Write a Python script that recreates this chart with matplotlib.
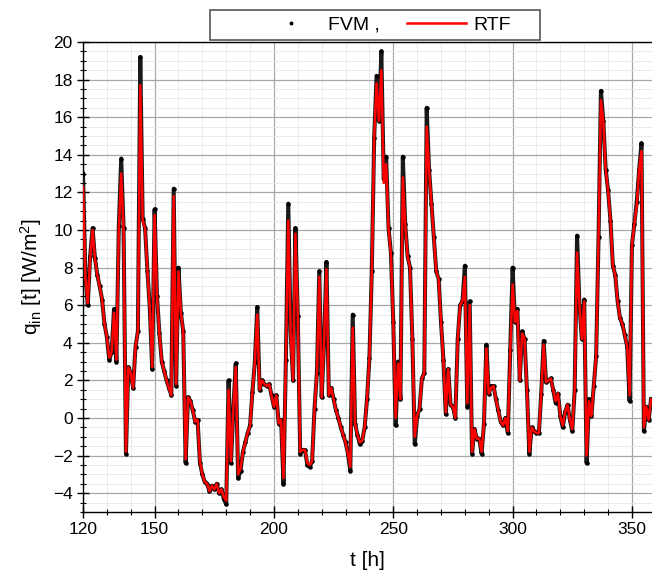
import numpy as np
import matplotlib
matplotlib.use("Agg")
import matplotlib.pyplot as plt
from matplotlib.ticker import MultipleLocator
from matplotlib.patches import Rectangle

plt.rcParams['font.family'] = ['Liberation Sans', 'DejaVu Sans']
plt.rcParams['mathtext.fontset'] = 'custom'
plt.rcParams['mathtext.rm'] = 'Liberation Sans'
plt.rcParams['mathtext.it'] = 'Liberation Sans:italic'

# hourly time axis, t = 120 ... 358 h
t_hours = np.arange(120, 359)

# RTF result (red line)
q_rtf = [
    12.3, 7.5, 6.1, 8.5, 10.0, 8.5, 7.6, 7.0, 6.3, 5.0,      # 120-129
    4.3, 3.2, 3.5, 5.6, 3.1, 10.0, 13.0, 10.0, -1.8, 2.7,     # 130-139
    2.4, 1.6, 3.8, 4.6, 17.7, 10.5, 10.1, 7.8, 5.8, 2.7,      # 140-149
    10.8, 6.5, 4.5, 3.0, 2.5, 2.0, 1.6, 1.2, 11.8, 1.8,       # 150-159
    7.8, 5.6, 4.6, -2.2, 1.1, 0.9, 0.4, -0.2, -0.1, -2.3,     # 160-169
    -3.0, -3.4, -3.5, -3.9, -3.6, -3.8, -3.5, -4.0, -3.8, -4.2,  # 170-179
    -4.4, 1.5, -2.3, 0.5, 2.7, -3.0, -2.7, -1.8, -1.3, -0.8,  # 180-189
    -0.4, 1.4, 3.0, 5.5, 1.5, 2.0, 1.8, 1.7, 1.8, 1.2,        # 190-199
    0.6, 1.2, -0.3, -0.1, -3.2, 3.1, 10.5, 4.6, 2.0, 9.8,     # 200-209
    5.4, -1.8, -1.7, -1.7, -2.4, -2.5, -2.3, 0.5, 2.4, 7.5,   # 210-219
    1.1, 4.0, 7.9, 1.2, 1.6, 1.0, 0.4, 0.0, -0.5, -0.9,       # 220-229
    -1.3, -1.9, -2.6, 4.8, -0.3, -0.9, -1.3, -1.2, -0.5, 1.0,  # 230-239
    3.2, 7.8, 14.9, 17.8, 15.8, 18.5, 12.5, 13.5, 10.1, 8.7,  # 240-249
    5.1, 0.0, 2.9, 1.0, 12.8, 10.3, 8.6, 8.0, 4.2, -1.0,      # 250-259
    0.1, 0.5, 2.1, 2.4, 15.5, 13.2, 11.4, 9.6, 7.8, 7.4,      # 260-269
    5.1, 3.1, 0.3, 2.6, 0.7, 0.6, 0.0, 4.2, 6.0, 6.2,         # 270-279
    7.5, 0.8, 6.0, -1.8, -0.6, -1.1, -1.1, -1.8, -0.3, 3.7,   # 280-289
    1.3, 1.6, 1.7, 1.0, 0.4, -0.2, -0.4, 0.0, -0.7, 3.5,      # 290-299
    7.1, 5.1, 5.7, 2.0, 4.5, 4.2, 1.5, -1.8, -0.5, -0.7,      # 300-309
    -0.8, -0.8, 1.3, 3.9, 1.9, 2.0, 2.1, 1.5, 0.9, 1.3,       # 310-319
    0.1, -0.4, 0.3, 0.7, -0.1, -0.6, 1.5, 8.8, 6.0, 4.2,      # 320-329
    6.2, -2.0, 0.9, 0.1, 1.7, 3.3, 9.6, 16.9, 15.8, 13.2,     # 330-339
    12.1, 10.5, 8.1, 7.6, 6.2, 5.3, 5.0, 4.4, 3.8, 1.2,       # 340-349
    9.2, 10.3, 11.3, 13.2, 14.2, -0.5, 0.6, -0.1, 1.0,        # 350-358
]

# FVM result (black dots), overshoots a bit at peaks and dips
q_fvm = [
    13.0, 7.6, 6.0, 8.6, 10.1, 8.5, 7.6, 7.0, 6.3, 5.0,
    4.3, 3.1, 3.5, 5.8, 3.0, 10.2, 13.8, 10.1, -1.9, 2.7,
    2.4, 1.6, 3.8, 4.6, 19.2, 10.6, 10.1, 7.8, 5.8, 2.6,
    11.1, 6.5, 4.5, 3.0, 2.5, 2.0, 1.6, 1.2, 12.2, 1.7,
    8.0, 5.6, 4.6, -2.4, 1.1, 0.9, 0.4, -0.2, -0.1, -2.4,
    -3.0, -3.4, -3.5, -3.9, -3.6, -3.8, -3.5, -4.0, -3.8, -4.3,
    -4.6, 2.0, -2.4, 0.5, 2.9, -3.2, -2.8, -1.8, -1.3, -0.8,
    -0.4, 1.4, 3.0, 5.9, 1.5, 2.0, 1.8, 1.7, 1.8, 1.2,
    0.6, 1.2, -0.3, -0.1, -3.5, 3.1, 11.4, 4.6, 2.0, 10.1,
    5.4, -1.9, -1.7, -1.7, -2.5, -2.6, -2.3, 0.5, 2.4, 7.8,
    1.1, 4.0, 8.3, 1.2, 1.6, 1.0, 0.4, 0.0, -0.5, -0.9,
    -1.3, -1.9, -2.8, 5.5, -0.3, -0.9, -1.4, -1.2, -0.5, 1.0,
    3.2, 7.8, 14.9, 18.2, 15.8, 19.5, 12.7, 13.9, 10.1, 8.8,
    5.1, -0.4, 3.0, 1.0, 13.9, 10.3, 8.6, 8.0, 4.2, -1.4,
    0.1, 0.5, 2.1, 2.4, 16.5, 13.2, 11.4, 9.6, 7.8, 7.4,
    5.1, 3.1, 0.2, 2.6, 0.7, 0.6, 0.0, 4.2, 6.0, 6.2,
    8.1, 0.6, 6.2, -1.9, -0.6, -1.1, -1.1, -1.9, -0.3, 3.9,
    1.3, 1.7, 1.7, 1.0, 0.4, -0.2, -0.4, 0.0, -0.8, 3.6,
    8.0, 5.1, 5.8, 2.0, 4.6, 4.2, 1.5, -1.9, -0.5, -0.7,
    -0.8, -0.8, 1.3, 4.1, 1.9, 2.0, 2.1, 1.5, 0.8, 1.3,
    0.1, -0.5, 0.3, 0.7, -0.1, -0.7, 1.5, 9.7, 6.0, 4.2,
    6.3, -2.4, 1.0, 0.1, 1.7, 3.3, 9.6, 17.4, 15.8, 13.2,
    12.1, 10.5, 8.1, 7.6, 6.2, 5.3, 5.0, 4.4, 3.8, 0.9,
    9.2, 10.3, 11.5, 13.2, 14.6, -0.7, 0.6, -0.1, 1.0,
]

fig = plt.figure(figsize=(6.52, 5.81), dpi=100)
ax = fig.add_axes([0.1273, 0.1188, 0.8727, 0.809])

# the FVM points are so dense that they read as a dark band under the red line
ax.plot(t_hours, q_fvm, color='#1a1a1a', linewidth=2.9, solid_joinstyle='round',
        zorder=3)
ax.plot(t_hours, q_fvm, linestyle='none', marker='.', markersize=4.5,
        color='black', label='FVM ,', zorder=3)
ax.plot(t_hours, q_rtf, color='#ff0000', linewidth=1.8, label='RTF', zorder=4)

ax.set_xlim(120, 358.4)
ax.set_ylim(-5, 20)
ax.set_xticks([120, 150, 200, 250, 300, 350])
ax.xaxis.set_minor_locator(MultipleLocator(10))
ax.yaxis.set_major_locator(MultipleLocator(2))
ax.yaxis.set_minor_locator(MultipleLocator(0.5))

ax.grid(True, which='major', color='#a8a8a8', linewidth=0.9)
ax.grid(True, which='minor', color='#e8e8e8', linewidth=0.6)
ax.set_axisbelow(True)

ax.spines['right'].set_visible(False)
for s in ['left', 'bottom', 'top']:
    ax.spines[s].set_linewidth(1.0)

ax.tick_params(which='major', direction='inout', length=8, width=1.0,
               labelsize=12.5, top=False, right=False)
ax.tick_params(which='minor', direction='inout', length=4, width=0.8,
               top=False, right=False)

ax.set_xlabel('t [h]', fontsize=15, labelpad=10)
ax.set_ylabel(r'q$_{\rm in}$ [t] [W/m$^2$]', fontsize=15, labelpad=6)

# legend entries without frame, box drawn separately to match the wide frame
leg = ax.legend(loc='center', bbox_to_anchor=(0.593, 0.957),
                bbox_transform=fig.transFigure, ncol=2, fontsize=14,
                frameon=False, handlelength=3.0, columnspacing=1.4,
                handletextpad=0.4, markerscale=0.8)
fig.patches.append(Rectangle((210 / 652, 1 - 40 / 581), 330 / 652, 30 / 581,
                             transform=fig.transFigure, fill=False,
                             edgecolor='#555555', linewidth=1.2))

fig.savefig('out.png', dpi=100, facecolor='white')
